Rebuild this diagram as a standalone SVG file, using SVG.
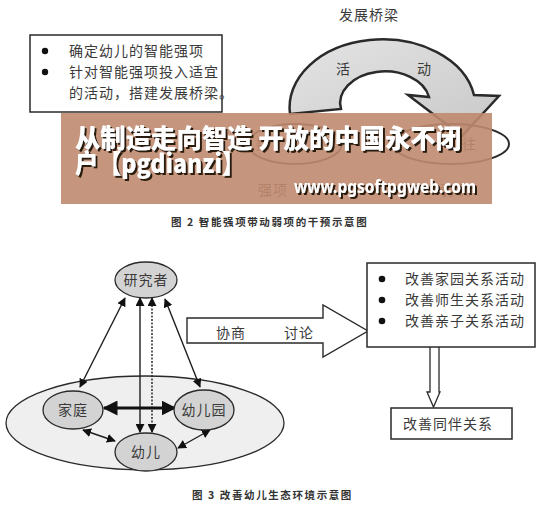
<svg xmlns="http://www.w3.org/2000/svg" width="552" height="510" viewBox="0 0 552 510">
<style>
.t{font-family:"Noto Sans CJK SC","Liberation Sans",sans-serif;fill:#3a3a3a;font-size:14px;letter-spacing:1px}
.cap{font-family:"Noto Sans CJK SC","Liberation Sans",sans-serif;fill:#333;font-size:10.5px;font-weight:bold;letter-spacing:1.6px}
.ln{stroke:#1e1e1e;stroke-width:1.4;fill:none}
.node{fill:#d3d3d3;stroke:#2a2a2a;stroke-width:1.3}
.box{fill:#fff;stroke:#2a2a2a;stroke-width:1.5}
.bn{font-family:"Noto Sans CJK SC","Liberation Sans",sans-serif;font-weight:900;font-size:26px;fill:#fff;filter:url(#sh)}
</style>
<defs>
<marker id="ah" viewBox="0 0 10 10" refX="9" refY="5" markerWidth="9" markerHeight="9" markerUnits="userSpaceOnUse" orient="auto-start-reverse">
<path d="M0,0 L10,5 L0,10 Z" fill="#111"/>
</marker>
<marker id="ahb" viewBox="0 0 10 10" refX="9" refY="5" markerWidth="5" markerHeight="5" orient="auto-start-reverse">
<path d="M0,0 L10,5 L0,10 Z" fill="#111"/>
</marker>
<linearGradient id="gr" x1="0" y1="0" x2="1" y2="1">
<stop offset="0" stop-color="#e4e4e4"/><stop offset="1" stop-color="#c8c8c8"/>
</linearGradient>
<filter id="sh" x="-5%" y="-20%" width="110%" height="140%">
<feDropShadow dx="2" dy="2" stdDeviation="0.4" flood-color="#2a1a10" flood-opacity="1"/>
</filter>
</defs>
<rect width="552" height="510" fill="#fff"/>

<!-- Figure 2 -->
<g id="box-left">
<rect class="box" x="30" y="35" width="192" height="77"/>
<circle cx="45" cy="51" r="3.2" fill="#111"/>
<circle cx="45" cy="72" r="3.2" fill="#111"/>
<text class="t" x="69" y="56">确定幼儿的智能强项</text>
<text class="t" x="69" y="77">针对智能强项投入适宜</text>
<text class="t" x="69" y="98">的活动，搭建发展桥梁。</text>
</g>
<g id="bridge-label"><text class="t" x="339" y="20">发展桥梁</text></g>
<g id="bridge-arrow">
<path d="M290,114 A93,68 0 0 1 474,95 L499,96 L462,136 L408,95 L429,97 A44,31 0 0 0 341,109 Z" fill="url(#gr)" stroke="#2a2a2a" stroke-width="2.5" stroke-linejoin="miter"/>
<text class="t" x="336" y="74" font-size="13">活</text>
<text class="t" x="417" y="74" font-size="13">动</text>
</g>
<g id="strong">
<ellipse cx="295" cy="144" rx="47" ry="20" fill="none" stroke="#2a2a2a" stroke-width="2"/>
<text class="t" x="256" y="149" fill="#777">数</text>
<text class="t" x="258" y="195" fill="#666">强项</text>
</g>
<g id="weak">
<ellipse cx="451" cy="144" rx="58" ry="20" fill="none" stroke="#2a2a2a" stroke-width="2"/>
<text class="t" x="462" y="149" fill="#777">往</text>
<text class="t" x="440" y="195" fill="#666">弱项</text>
</g>
<text class="cap" x="171" y="226">图 2  智能强项带动弱项的干预示意图</text>

<!-- Banner overlay -->
<g id="banner">
<rect x="61" y="113" width="431" height="91" fill="#c08a70" opacity="0.9"/>
<text class="bn" x="75" y="148" textLength="386" lengthAdjust="spacingAndGlyphs">从制造走向智造 开放的中国永不闭</text>
<text class="bn" x="75" y="173" textLength="170" lengthAdjust="spacingAndGlyphs">户【pgdianzi】</text>
<text x="294" y="193" font-family="'Noto Sans','Liberation Sans',sans-serif" font-size="17" font-weight="bold" fill="#fff" filter="url(#sh)" textLength="182" lengthAdjust="spacingAndGlyphs">www.pgsoftpgweb.com</text>
</g>

<!-- Figure 3 -->
<g id="env">
<ellipse cx="145" cy="423" rx="139" ry="47" fill="#efefef" stroke="#2a2a2a" stroke-width="1.3"/>
</g>
<g id="connectors">
<line class="ln" x1="125" y1="298" x2="80" y2="387" marker-start="url(#ah)" marker-end="url(#ah)"/>
<line class="ln" x1="165" y1="299" x2="200" y2="387" marker-start="url(#ah)" marker-end="url(#ah)"/>
<line class="ln" x1="140" y1="298" x2="140" y2="432" marker-start="url(#ah)" marker-end="url(#ah)"/>
<line class="ln" x1="152" y1="298" x2="152" y2="432" stroke-dasharray="2,1.5" stroke-width="1" marker-start="url(#ah)" marker-end="url(#ah)"/>
<line x1="104" y1="408" x2="175" y2="408" stroke="#111" stroke-width="3" marker-start="url(#ahb)" marker-end="url(#ahb)"/>
<line class="ln" x1="83" y1="430" x2="115" y2="441" marker-start="url(#ah)" marker-end="url(#ah)"/>
<line class="ln" x1="210" y1="430" x2="178" y2="448" marker-start="url(#ah)" marker-end="url(#ah)"/>
<path d="M187,318 L323,318 L323,305 L368,331 L323,357 L323,343 L187,343 Z" fill="#fff" stroke="#2a2a2a" stroke-width="1.4"/>
<path d="M430,347 L430,392 L427,392 L433.5,407 L440,392 L439,392 L439,347" fill="#fff" stroke="#2a2a2a" stroke-width="1.3"/>
</g>
<text class="t" x="216" y="338" font-size="13">协商</text>
<text class="t" x="284" y="338" font-size="13">讨论</text>
<g id="researcher">
<ellipse class="node" cx="146" cy="280" rx="31" ry="18"/>
<text class="t" x="146" y="285" text-anchor="middle" font-size="12.5">研究者</text>
</g>
<g id="family">
<ellipse class="node" cx="73" cy="410" rx="30" ry="19"/>
<text class="t" x="73" y="415" text-anchor="middle">家庭</text>
</g>
<g id="kindergarten">
<ellipse class="node" cx="204" cy="410" rx="30" ry="20"/>
<text class="t" x="204" y="415" text-anchor="middle" font-size="13">幼儿园</text>
</g>
<g id="child">
<ellipse class="node" cx="146" cy="452" rx="31" ry="19"/>
<text class="t" x="146" y="457" text-anchor="middle" font-size="13">幼儿</text>
</g>
<g id="activities">
<rect class="box" x="367" y="263" width="168" height="84"/>
<circle cx="382" cy="279" r="3.3" fill="#111"/>
<circle cx="382" cy="300" r="3.3" fill="#111"/>
<circle cx="382" cy="321" r="3.3" fill="#111"/>
<text class="t" x="405" y="284">改善家园关系活动</text>
<text class="t" x="405" y="305">改善师生关系活动</text>
<text class="t" x="405" y="326">改善亲子关系活动</text>
</g>
<g id="peer">
<rect class="box" x="391" y="408" width="121" height="31"/>
<text class="t" x="403" y="429">改善同伴关系</text>
</g>
<text class="cap" x="192" y="499">图 3  改善幼儿生态环境示意图</text>
</svg>
